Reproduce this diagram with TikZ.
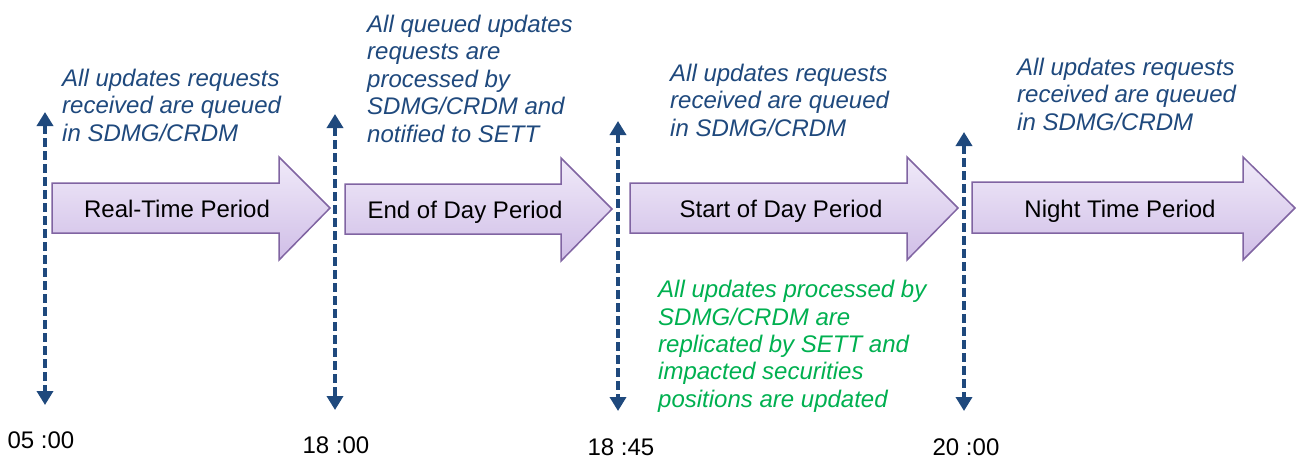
\documentclass[tikz,border=0pt]{standalone}
\usepackage{fontspec}
\setmainfont{Liberation Sans}
\usetikzlibrary{arrows.meta}
\definecolor{noteblue}{RGB}{31,73,125}
\definecolor{notegreen}{RGB}{0,176,80}
\definecolor{periodline}{RGB}{128,100,162}
\definecolor{periodtop}{RGB}{240,234,249}
\definecolor{periodbot}{RGB}{208,190,231}

\begin{document}
\begin{tikzpicture}[x=1pt, y=-1pt, >={Triangle[width=16pt,length=14pt]},
  period/.style={draw=periodline, line width=1.5pt, top color=periodtop, bottom color=periodbot, line join=miter},
  timeline/.style={<->, draw=noteblue, line width=3.5pt, dash pattern=on 9pt off 4pt},
  periodtext/.style={font=\fontsize{24}{28}\selectfont, inner sep=0pt, anchor=base},
  bluenote/.style={font=\fontsize{24}{27.4}\selectfont\itshape, inner sep=0pt, anchor=north west, align=left, text=noteblue}]
\useasboundingbox (0,0) rectangle (1300,459);

% the four periods
\draw[period] (52,183) -- (279,183) -- (279,157) -- (330,208) -- (279,260) -- (279,233) -- (52,233) -- cycle;
\draw[period] (345,184) -- (561,184) -- (561,158) -- (612,209) -- (561,261) -- (561,234) -- (345,234) -- cycle;
\draw[period] (630,183) -- (907,183) -- (907,157) -- (958,208) -- (907,260) -- (907,233) -- (630,233) -- cycle;
\draw[period] (972,182) -- (1243,182) -- (1243,157) -- (1295,208) -- (1243,260) -- (1243,233) -- (972,233) -- cycle;
\node[periodtext] (rt) at (177,217) {Real-Time Period};
\node[periodtext] (eod) at (465,218) {End of Day Period};
\node[periodtext] (sod) at (781,217) {Start of Day Period};
\node[periodtext] (nt) at (1120,217) {Night Time Period};

% time marks
\coordinate (a0) at (45,112);
\coordinate (b0) at (45,405);
\coordinate (a1) at (335,114);
\coordinate (b1) at (335,410);
\coordinate (a2) at (618,121);
\coordinate (b2) at (618,411);
\coordinate (a3) at (964,132);
\coordinate (b3) at (964,411);
\draw[timeline] (a0) -- (b0);
\draw[timeline] (a1) -- (b1);
\draw[timeline] (a2) -- (b2);
\draw[timeline] (a3) -- (b3);
\node[periodtext] (t0) at (41,448) {05 :00};
\node[periodtext] (t1) at (336,453) {18 :00};
\node[periodtext] (t2) at (621,455) {18 :45};
\node[periodtext] (t3) at (966,455) {20 :00};

% notes
\node[bluenote] (n0) at (62,69) {All updates requests\\received are queued\\in SDMG/CRDM};
\node[bluenote] (n1) at (367,15) {All queued updates\\requests are\\processed by\\SDMG/CRDM and\\notified to SETT};
\node[bluenote] (n2) at (670,64) {All updates requests\\received are queued\\in SDMG/CRDM};
\node[bluenote] (n3) at (1017,58) {All updates requests\\received are queued\\in SDMG/CRDM};
\node[bluenote, text=notegreen] (n4) at (658,280) {All updates processed by\\SDMG/CRDM are\\replicated by SETT and\\impacted securities\\positions are updated};
\end{tikzpicture}
\end{document}
